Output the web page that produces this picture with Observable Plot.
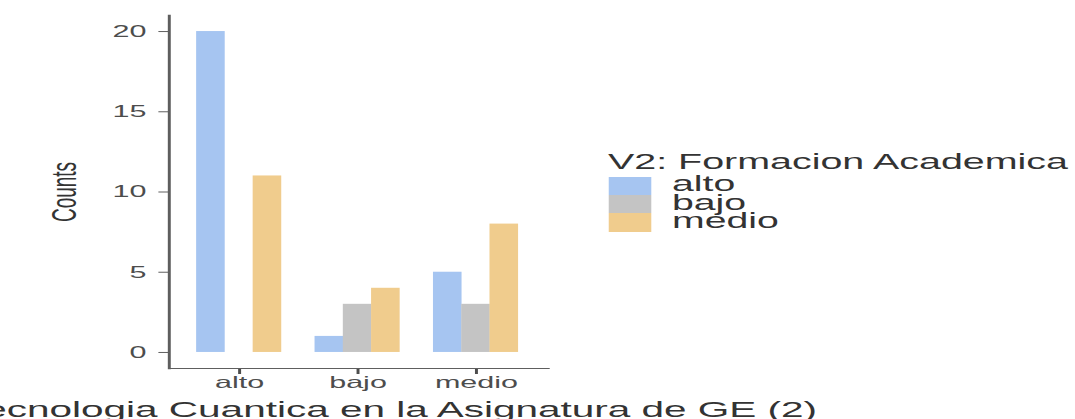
<!DOCTYPE html>
<html>
<head>
<meta charset="utf-8">
<script src="https://cdn.jsdelivr.net/npm/d3@7"></script>
<script src="https://cdn.jsdelivr.net/npm/@observablehq/plot@0.6"></script>
<style>
  html, body { margin: 0; padding: 0; background: white; overflow: hidden; }
  #page { width: 1075px; height: 419px; position: relative; overflow: hidden; }
  #wrap { position: absolute; left: 0; top: 0; transform-origin: 0 0; }
  #wrap svg { display: block; max-width: none; }
  g[aria-label="x-axis label"], g[aria-label="x-axis label"] text { font-size: 21.9px; fill: #333; }
  g[aria-label="y-axis label"], g[aria-label="y-axis label"] text { font-size: 19px; fill: #333; }
  .legend { position: absolute; font-family: "Liberation Sans", Arial, sans-serif; color: #333; }
  .legend .title { position: absolute; left: 0; white-space: nowrap; font-size: 21.3px; line-height: 21px; }
  .legend .row { position: absolute; left: 0; }
  .legend .sw { position: absolute; left: 0; top: 0; }
  .legend .lab { position: absolute; white-space: nowrap; font-size: 21.2px; line-height: 21px; }
</style>
</head>
<body>
<div id="page"><div id="wrap"></div></div>
<script>
// ---- data ----
const categories = ["alto", "bajo", "medio"];          // V1 levels (x axis)
const groups = ["alto", "bajo", "medio"];              // V2 levels (legend)
const countsAlto = [20, 1, 5];                         // V2 = alto, per V1 category
const countsBajo = [0, 3, 3];                          // V2 = bajo
const countsMedio = [11, 4, 8];                        // V2 = medio
const groupColors = ["#a6c5f1", "#c4c4c4", "#f0cc8d"];
const yTicks = [0, 5, 10, 15, 20];
const xTitle = "V1: Tecnologia Cuantica en la Asignatura de GE (2)";
const yTitle = "Counts";
const legendTitle = "V2: Formacion Academica";

// ---- build table ----
const seriesCounts = [countsAlto, countsBajo, countsMedio];
const rows = [];
groups.forEach((g, gi) => categories.forEach((c, ci) => rows.push({category: c, group: g, count: seriesCounts[gi][ci]})));

// ---- layout (drawn unstretched, then stretched horizontally like the reference) ----
const stretch = 1.85;
const W = Math.round(1075 / stretch);
const H = 419;
const mL = 91, mR = W - 296, mT = 15, mB = 51;
const pInner = 0.286, pOuter = 0.24;
const step = (W - mL - mR) / (categories.length - pInner + 2 * pOuter);
const bw = step * (1 - pInner);
const sub = bw / groups.length;
const yMax = d3.max(rows, d => d.count);
const expand = 0.05 * yMax;

const chart = Plot.plot({
  width: W,
  height: H,
  marginLeft: mL,
  marginRight: mR,
  marginTop: mT,
  marginBottom: mB,
  style: {fontFamily: "'Liberation Sans', Arial, sans-serif", background: "white"},
  x: {domain: categories, paddingInner: pInner, paddingOuter: pOuter, align: 0.49},
  y: {domain: [-expand, yMax + expand]},
  color: {domain: groups, range: groupColors},
  marks: [
    ...groups.map((g, i) => Plot.barY(rows.filter(r => r.group === g), {
      x: "category", y: "count", fill: "group",
      insetLeft: i * sub, insetRight: (groups.length - 1 - i) * sub
    })),
    Plot.axisY({ticks: yTicks, tickSize: 5.4, tickPadding: 7, fontSize: 16.5,
      stroke: "#5e5e5e", fill: "#4d4d4d", strokeWidth: 1,
      label: yTitle, labelAnchor: "center", labelArrow: false, labelOffset: 64}),
    Plot.axisX({tickSize: 6, tickPadding: 2, fontSize: 16.5,
      stroke: "#4d4d4d", fill: "#4d4d4d", strokeWidth: 1.6,
      label: xTitle, labelAnchor: "center", labelArrow: false}),
    Plot.frame({anchor: "left", stroke: "#5e5e5e", strokeWidth: 1.6}),
    Plot.frame({anchor: "bottom", stroke: "#5e5e5e", strokeWidth: 1.2})
  ]
});

const wrap = document.getElementById("wrap");
wrap.style.width = W + "px";
wrap.style.height = H + "px";
wrap.style.transform = `scaleX(${1075 / W})`;
wrap.appendChild(chart);
// nudge the axis title slightly left, as in the reference
d3.select(chart).selectAll('g[aria-label="x-axis label"] text').attr("dx", -2.2);

// ---- legend ----
const legend = document.createElement("div");
legend.className = "legend";
legend.style.left = "328.6px";
legend.style.top = "0px";
const t = document.createElement("div");
t.className = "title";
t.style.top = "152px";
t.textContent = legendTitle;
legend.appendChild(t);
const swW = 23.4, swH = 18.4, sw0 = 176.5;
groups.forEach((g, i) => {
  const row = document.createElement("div");
  row.className = "row";
  row.style.top = (sw0 + i * swH) + "px";
  const s = document.createElement("div");
  s.className = "sw";
  s.style.width = swW + "px";
  s.style.height = swH + "px";
  s.style.background = groupColors[i];
  const l = document.createElement("div");
  l.className = "lab";
  l.style.left = "34.6px";
  l.style.top = "-3.3px";
  l.textContent = g;
  row.appendChild(s);
  row.appendChild(l);
  legend.appendChild(row);
});
wrap.appendChild(legend);
</script>
</body>
</html>
